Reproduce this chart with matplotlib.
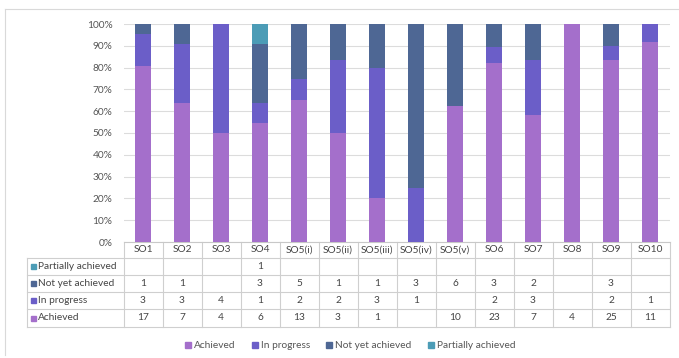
import numpy as np
import matplotlib.pyplot as plt
from matplotlib.patches import Patch, Rectangle
from matplotlib.lines import Line2D
from matplotlib.transforms import blended_transform_factory

plt.rcParams['font.family'] = ['Lato', 'DejaVu Sans']

# objectives and counts per status
objetivos = ['SO1', 'SO2', 'SO3', 'SO4', 'SO5(i)', 'SO5(ii)', 'SO5(iii)',
             'SO5(iv)', 'SO5(v)', 'SO6', 'SO7', 'SO8', 'SO9', 'SO10']
achieved = [17, 7, 4, 6, 13, 3, 1, 0, 10, 23, 7, 4, 25, 11]
in_progress = [3, 3, 4, 1, 2, 2, 3, 1, 0, 2, 3, 0, 2, 1]
not_yet = [1, 1, 0, 3, 5, 1, 1, 3, 6, 3, 2, 0, 3, 0]
partially = [0, 0, 0, 1, 0, 0, 0, 0, 0, 0, 0, 0, 0, 0]

seriler = ['Achieved', 'In progress', 'Not yet achieved', 'Partially achieved']
degerler = [achieved, in_progress, not_yet, partially]
renkler = ['#a46fcb', '#6b5ec8', '#4e6794', '#4c9cb6']
fs = 7.3

W, H = 679, 358
fig = plt.figure(figsize=(W / 100, H / 100), dpi=100)

def fx(px):
    return px / W

def fy(py):
    return 1 - py / H

# frame lines (top and left only)
fig.add_artist(Line2D([fx(5), 1], [fy(9), fy(9)], color='#d9d9d9', lw=0.8))
fig.add_artist(Line2D([fx(5), fx(5)], [fy(9), fy(355)], color='#d9d9d9', lw=0.8))

ax_l, ax_r, ax_t, ax_b = 123.5, 669.5, 24, 242
ax = fig.add_axes([fx(ax_l), fy(ax_b), fx(ax_r - ax_l), (ax_b - ax_t) / H])

toplam = np.sum(degerler, axis=0)
x = np.arange(len(objetivos))
alt = np.zeros(len(objetivos))
for ad, val, renk in zip(seriler, degerler, renkler):
    oran = np.array(val) / toplam
    ax.bar(x, oran, 0.43, bottom=alt, color=renk, label=ad, zorder=3)
    alt += oran

ax.set_xlim(-0.5, len(objetivos) - 0.5)
ax.set_ylim(0, 1)
ax.set_yticks(np.arange(0, 1.01, 0.1))
ax.set_yticklabels([f'{int(round(v * 100))}%' for v in np.arange(0, 1.01, 0.1)])
ax.set_xticks([])
ax.tick_params(axis='y', length=0, labelsize=fs, colors='#555555', pad=8)
ax.grid(axis='y', color='#dcdcdc', lw=0.8, zorder=0)
for s in ['top', 'right', 'left']:
    ax.spines[s].set_visible(False)
ax.spines['bottom'].set_color('#c8c8c8')

# data table below the bars
cizgi = '#cfcfcf'
tr = blended_transform_factory(ax.transData, fig.transFigure)
satirlar = [242, 258, 275, 292, 309, 327]
for yy in satirlar[1:]:
    fig.add_artist(Line2D([fx(27), fx(ax_r)], [fy(yy), fy(yy)], color=cizgi, lw=0.8))
fig.add_artist(Line2D([fx(27), fx(27)], [fy(258), fy(327)], color=cizgi, lw=0.8))
for j in range(len(objetivos) + 1):
    ax.add_line(Line2D([j - 0.5, j - 0.5], [fy(242), fy(327)], transform=tr,
                       color=cizgi, lw=0.8, clip_on=False))

for i, ad in enumerate(objetivos):
    ax.text(i, fy(250), ad, transform=tr, ha='center', va='center',
            fontsize=fs, color='#444444', clip_on=False)

tablo_sira = [3, 2, 1, 0]
for r, k in enumerate(tablo_sira):
    ymid = fy((satirlar[r + 1] + satirlar[r + 2]) / 2)
    fig.patches.append(Rectangle((fx(31), ymid - 2.5 / H), 5 / W, 5 / H,
                                 transform=fig.transFigure, color=renkler[k]))
    fig.text(fx(37.5), ymid, seriler[k], ha='left', va='center',
             fontsize=fs, color='#444444')
    for i, v in enumerate(degerler[k]):
        if v:
            ax.text(i, ymid, str(v), transform=tr, ha='center', va='center',
                    fontsize=fs, color='#444444', clip_on=False)

el = [Patch(color=c, label=a) for a, c in zip(seriler, renkler)]
fig.legend(handles=el, loc='center', bbox_to_anchor=(fx(350), fy(346)), ncol=4,
           frameon=False, fontsize=fs, handlelength=0.6, handleheight=0.6,
           handletextpad=0.3, columnspacing=1.6, labelcolor='#555555')

fig.savefig('out.png', dpi=100)
